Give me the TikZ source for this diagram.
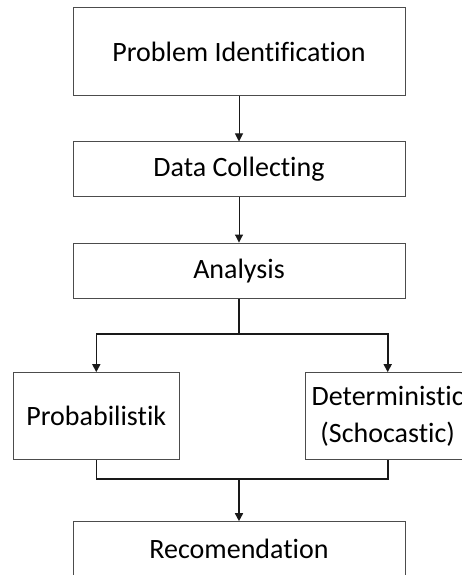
\documentclass[tikz,border=0pt]{standalone}
\usepackage{fontspec}
\setmainfont{Carlito}[Ligatures=NoCommon]
\usetikzlibrary{arrows.meta}
\begin{document}
\begin{tikzpicture}[x=1pt,y=1pt,
  box/.style={draw=black!70, line width=1pt, minimum width=332pt, text=black, font=\fontsize{28}{36.7}\selectfont, inner sep=0pt, align=center},
  sbox/.style={box, minimum width=166pt, minimum height=87.3pt},
  conn/.style={draw=black!90, line width=1pt},
  bconn/.style={draw=black!90, line width=1.6pt},
  arr/.style={conn, -{Triangle[width=8pt,length=8pt]}},
  barr/.style={bconn, -{Triangle[width=8pt,length=8pt]}}]
\clip (0,0) rectangle (462,575);
\useasboundingbox (0,0) rectangle (462,575);
\fill[white] (0,0) rectangle (462,575);
\node[box, minimum height=88pt] (pi) at (239,523) {Problem Identification};
\node[box, minimum height=55pt] (dc) at (239,405.5) {Data Collecting};
\node[box, minimum height=55.3pt] (an) at (239,304.3) {Analysis};
\node[sbox] (pr) at (96.3,158.7) {Probabilistik};
\node[sbox, minimum width=165.4pt] (de) at (387.7,158.7) {Deterministic\\(Schocastic)};
\node[box, minimum height=55pt] (re) at (239,25.8) {Recomendation};
\coordinate (split) at (239,240.7);
\coordinate (merge) at (239,95.7);
\draw[arr] (pi.south) -- (dc.north);
\draw[arr] (dc.south) -- (an.north);
\draw[bconn] (an.south) -- (split);
\draw[barr] (split) -| (pr.north);
\draw[barr] (split) -| (de.north);
\draw[bconn] (pr.south) |- (merge) -| (de.south);
\draw[barr] (merge) -- (re.north);
\end{tikzpicture}
\end{document}
